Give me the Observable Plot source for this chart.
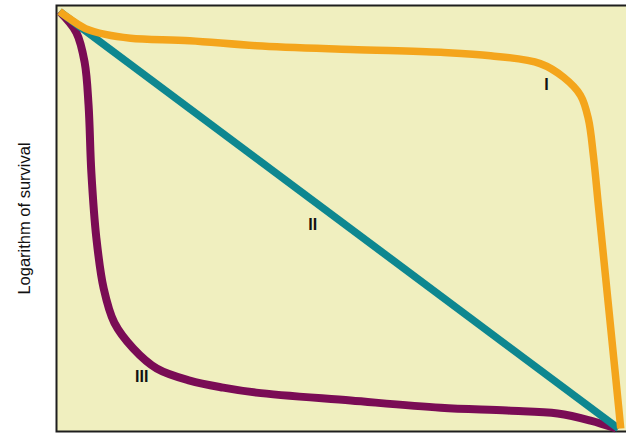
<!DOCTYPE html>
<html>
<head>
<meta charset="utf-8">
<script src="https://cdn.jsdelivr.net/npm/d3@7"></script>
<script src="https://cdn.jsdelivr.net/npm/@observablehq/plot@0.6"></script>
<style>
  html, body { margin: 0; padding: 0; background: #ffffff; }
  #chart svg { display: block; }
</style>
</head>
<body>
<div id="chart"></div>
<script>
// Age as percent of maximum life span (x), logarithm of survival as percent of start (y)
const typeIAge      = [0, 2.0, 4.65, 8.2, 12.7, 23.3, 35.2, 52.1, 68.2, 77.1, 86.0, 90.2, 93.2, 94.6, 95.5, 96.4, 97.3, 98.2, 99.1, 100, 100.4];
const typeISurv     = [100, 98.1, 95.9, 94.5, 93.6, 93.0, 91.8, 90.9, 90.2, 89.4, 87.5, 84.2, 79.9, 74.3, 65.5, 53.5, 41.5, 29.5, 17.5, 5.5, 0];

const typeIIAge     = [0, 100];
const typeIISurv    = [100, 0];

const typeIIIAge    = [0, 3.0, 4.5, 5.2, 5.7, 6.6, 7.9, 9.8, 13.2, 17.4, 23.3, 29.3, 35.2, 52.1, 68.2, 80.1, 89.1, 95.0, 99.6];
const typeIIISurv   = [100, 95.0, 87.8, 77.5, 61.4, 45.6, 33.6, 25.4, 19.2, 14.4, 11.5, 9.8, 8.6, 6.7, 5.0, 4.3, 3.6, 1.9, 0];

const curveLabels   = ["I", "II", "III"];
const labelAge      = [87.1, 45.3, 14.7];
const labelSurv     = [82.5, 48.9, 12.5];

const yAxisTitle = "Logarithm of survival";

const toPoints = (xs, ys) => xs.map((x, i) => ({x, y: ys[i]}));
const typeI = toPoints(typeIAge, typeISurv);
const typeII = toPoints(typeIIAge, typeIISurv);
const typeIII = toPoints(typeIIIAge, typeIIISurv);
const labels = curveLabels.map((t, i) => ({t, x: labelAge[i], y: labelSurv[i]}));

const chart = Plot.plot({
  width: 626,
  height: 436,
  marginLeft: 56,
  marginRight: -4,
  marginTop: 5,
  marginBottom: 5,
  style: {background: "#ffffff", fontFamily: "Liberation Sans, Arial, sans-serif"},
  x: {domain: [0, 100], range: [59, 618], axis: null},
  y: {domain: [0, 100], range: [428, 11], axis: null},
  marks: [
    Plot.frame({fill: "#f0efbf", stroke: "#1e1e1e", strokeWidth: 2}),
    Plot.line(typeIII, {x: "x", y: "y", stroke: "#7a0c55", strokeWidth: 8, curve: "catmull-rom", strokeLinecap: "butt"}),
    Plot.line(typeII, {x: "x", y: "y", stroke: "#0e8790", strokeWidth: 7.5, strokeLinecap: "butt"}),
    Plot.line(typeI, {x: "x", y: "y", stroke: "#f4a51c", strokeWidth: 7.5, curve: "catmull-rom", strokeLinecap: "butt"}),
    Plot.text(labels, {x: "x", y: "y", text: "t", fontSize: 16, fontWeight: "bold", fill: "#111111"}),
    Plot.text([yAxisTitle], {frameAnchor: "left", textAnchor: "middle", dx: -32, rotate: -90, fontSize: 16.5, fill: "#111111"})
  ]
});
document.getElementById("chart").appendChild(chart);
</script>
</body>
</html>
